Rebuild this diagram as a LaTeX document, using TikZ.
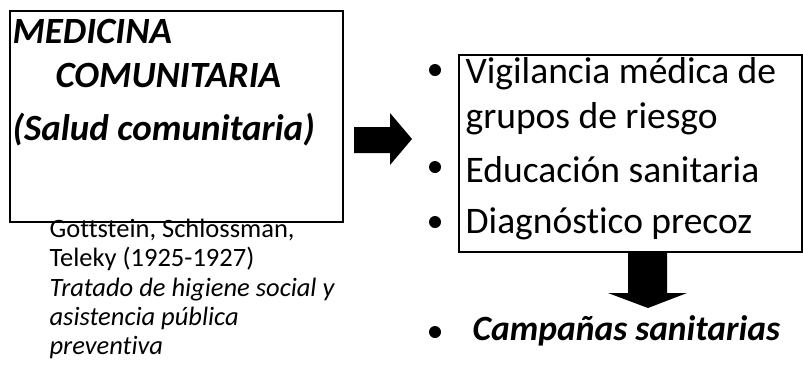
\documentclass[tikz,border=0pt]{standalone}
\usepackage{fontspec}
\setmainfont{Carlito}[Ligatures=NoCommon]
\usepackage{tikz}

\begin{document}
\begin{tikzpicture}[x=1pt, y=-1pt, line width=1.2pt,
    head/.style={anchor=base west, inner sep=0pt, font=\fontsize{37}{44}\selectfont\bfseries\itshape},
    item/.style={anchor=base west, inner sep=0pt, font=\fontsize{37.5}{44}\selectfont},
    note/.style={anchor=base west, inner sep=0pt, font=\fontsize{26.5}{30}\selectfont},
    dot/.style={circle, fill=black, inner sep=0pt, minimum size=12pt}]
            \useasboundingbox (0,0) rectangle (803,365);

            % left box
            \draw (10,11) rectangle (343,222);
            \node[head] (med) at (12,43) {MEDICINA};
            \node[head] (com) at (55,87) {COMUNITARIA};
            \node[head] (sal) at (12,140) {(Salud comunitaria)};

            % source below the box
            \node[note] (au1) at (49,237) {Gottstein, Schlossman,};
            \node[note] (au2) at (49,266) {Teleky (1925-1927)};
            \node[note] (ti1) at (49,296) {\itshape Tratado de higiene social y};
            \node[note] (ti2) at (49,325) {\itshape asistencia pública};
            \node[note] (ti3) at (49,354) {\itshape preventiva};

            % right arrow
            \fill (354,127) -- (390,127) -- (390,113) -- (412,139)
                -- (390,165) -- (390,153) -- (354,153) -- cycle;

            % down arrow
            \fill (628,247) -- (667,247) -- (667,293) -- (687,293)
                -- (648,308) -- (608,293) -- (628,293) -- cycle;

            % right box
            \draw[fill=white] (459,55) rectangle (802,252);
            \node[dot] (b1) at (435,70) {};
            \node[item] (vig) at (465,83) {Vigilancia médica de};
            \node[item] (gru) at (465,128) {grupos de riesgo};
            \node[dot] (b2) at (435,167) {};
            \node[item] (edu) at (465,182) {Educación sanitaria};
            \node[dot] (b3) at (435,222) {};
            \node[item] (dia) at (465,233) {Diagnóstico precoz};

            % result
            \node[dot] (b4) at (435,332) {};
            \node[item, font=\fontsize{35.5}{42}\selectfont\bfseries\itshape] (cam) at (472,340) {Campañas sanitarias};
        \end{tikzpicture}
\end{document}
